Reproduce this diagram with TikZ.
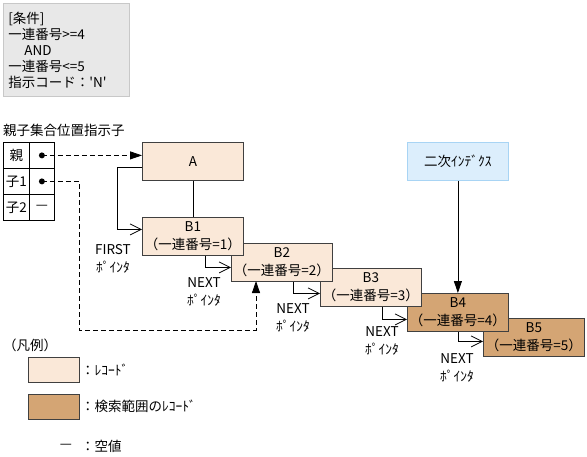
\documentclass[tikz,border=0pt]{standalone}
\usepackage{fontspec}
\setmainfont{Noto Sans CJK JP}
\usetikzlibrary{arrows.meta}
\definecolor{peach}{HTML}{FAE8D8}
\definecolor{tan}{HTML}{D4A574}
\definecolor{skyfill}{HTML}{DCEEFC}
\definecolor{skyline}{HTML}{A8D4F4}
\definecolor{condfill}{HTML}{E8E8E8}
\definecolor{condline}{HTML}{C8C8C8}
\begin{document}
\begin{tikzpicture}[x=1pt,y=-1pt,
  font=\fontsize{13.5}{18}\selectfont,
  rec/.style={draw=black!75, fill=peach, line width=0.8pt, minimum width=101pt, minimum height=38pt, anchor=north west, inner sep=0pt, align=center},
  recdark/.style={rec, fill=tan},
  cell/.style={draw=black, line width=0.8pt, minimum width=26pt, minimum height=26pt, anchor=north west, inner sep=0pt},
  cellb/.style={cell, minimum width=25pt},
  lbl/.style={inner sep=0pt, align=center},
  ptr/.style={line width=0.8pt, -{Straight Barb[length=11pt,width=11pt,line width=0.8pt]}},
  solidarrow/.style={line width=0.8pt, -{Triangle[length=12pt,width=8pt]}},
  dsh/.style={line width=0.8pt, dash pattern=on 5pt off 3pt},
  dotmark/.style={circle, fill=black, inner sep=0pt, minimum size=6pt}
]
\useasboundingbox (0,0) rectangle (587,456);

% condition box
\node[draw=condline, fill=condfill, line width=0.8pt, anchor=north west, minimum width=126pt, minimum height=93pt, text width=116pt, inner xsep=5pt, inner ysep=0pt, align=left, font=\fontsize{13.5}{16}\selectfont] (cond) at (3,3)
  {[条件]\\一連番号>=4\\\hspace*{16pt}AND\\一連番号<=5\\指示コード：\textquotesingle N\textquotesingle};

% parent-child position indicator
\node[lbl, anchor=west] (title) at (3,130) {親子集合位置指示子};
\node[cell] (p1) at (3,142) {親};
\node[cellb] (p1v) at (29,142) {};
\node[cell] (c1) at (3,168) {子1};
\node[cellb] (c1v) at (29,168) {};
\node[cell] (c2) at (3,194) {子2};
\node[cellb] (c2v) at (29,194) {—};
\node[dotmark] (dp) at (p1v.center) {};
\node[dotmark] (dc) at (c1v.center) {};

% records
\node[rec] (A) at (142,142) {A};
\node[recdark] (B5) at (483,318) {B5\\（一連番号=5）};
\node[recdark] (B4) at (407,293) {B4\\（一連番号=4）};
\node[rec] (B3) at (320,268) {B3\\（一連番号=3）};
\node[rec] (B2) at (231,243) {B2\\（一連番号=2）};
\node[rec] (B1) at (142,217) {B1\\（一連番号=1）};

% secondary index
\node[rec, fill=skyfill, draw=skyline] (sec) at (407,142) {二次ｲﾝﾃﾞｸｽ};

% connectors
\draw[dsh, -{Triangle[length=12pt,width=8pt]}] (dp.center) -- (A.west |- dp.center);
\coordinate (turn) at (79,330);
\coordinate (b2in) at (256,281);
\draw[dsh, -{Triangle[length=12pt,width=8pt]}] (dc.center) -| (turn) -| (b2in);

\draw[line width=0.8pt] (A.south) -- (B1.north);
\draw[ptr] ([yshift=-6pt]A.west) -- ++(-25,0) |- ([yshift=7pt]B1.west);
\draw[ptr] ([xshift=63pt]B1.south west) |- ([yshift=-5pt]B2.west);
\draw[ptr] ([xshift=62pt]B2.south west) |- ([yshift=-6pt]B3.west);
\draw[ptr] ([xshift=62pt]B3.south west) |- ([yshift=-7pt]B4.west);
\draw[ptr] (B4.south) |- ([yshift=-4pt]B5.west);
\draw[solidarrow] (sec.south) -- (B4.north);

% pointer labels
\node[lbl] (first) at (113,259) {FIRST\\ﾎﾟｲﾝﾀ};
\node[lbl] (n1) at (204,292) {NEXT\\ﾎﾟｲﾝﾀ};
\node[lbl] (n2) at (293,318) {NEXT\\ﾎﾟｲﾝﾀ};
\node[lbl] (n3) at (382,341) {NEXT\\ﾎﾟｲﾝﾀ};
\node[lbl] (n4) at (457,368) {NEXT\\ﾎﾟｲﾝﾀ};

% legend
\node[lbl, anchor=west] (leg) at (3,345) {（凡例）};
\node[rec, minimum width=51pt, minimum height=25pt] (lg1) at (28,357) {};
\node[lbl, anchor=west] (lg1t) at (81,370) {：ﾚｺｰﾄﾞ};
\node[recdark, minimum width=51pt, minimum height=25pt] (lg2) at (28,394) {};
\node[lbl, anchor=west] (lg2t) at (81,406) {：検索範囲のﾚｺｰﾄﾞ};
\node[lbl] (lg3) at (66,446) {—};
\node[lbl, anchor=west] (lg3t) at (81,446) {：空値};
\end{tikzpicture}
\end{document}
